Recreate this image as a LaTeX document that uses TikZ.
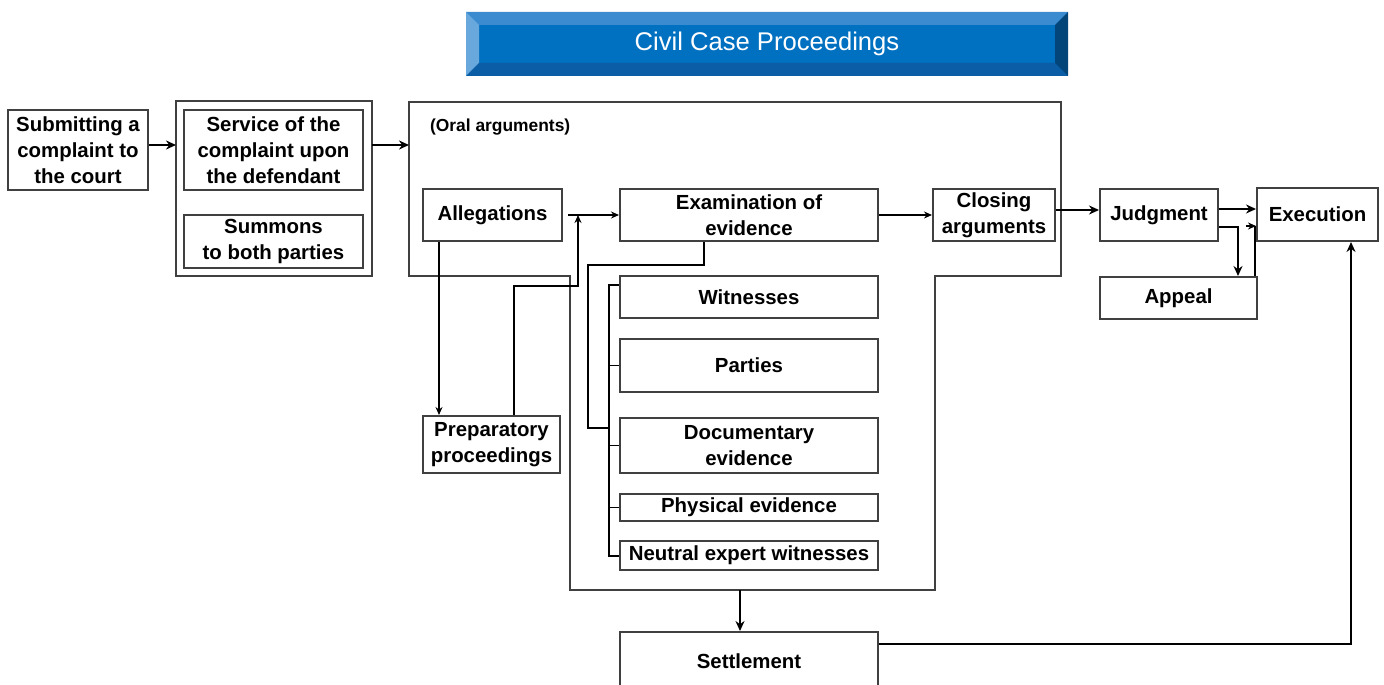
\documentclass[tikz,border=0pt]{standalone}
\usepackage{fontspec}
\setmainfont{Liberation Sans}
\usetikzlibrary{arrows.meta,calc}
\definecolor{bordgray}{rgb}{0.25,0.25,0.25}
\definecolor{ttlmid}{HTML}{0070C0}
\definecolor{ttltop}{HTML}{3A8BD0}
\definecolor{ttlleft}{HTML}{69A8DC}
\definecolor{ttlbot}{HTML}{0B5DA6}
\definecolor{ttlright}{HTML}{034579}
\begin{document}
\begin{tikzpicture}[x=0.5pt,y=-0.5pt,>={Stealth[length=4pt,width=3.5pt]},
  box/.style={draw=bordgray,line width=1pt,inner sep=0pt,align=center,
    font=\bfseries\fontsize{10.2}{13}\selectfont},
  frame/.style={draw=bordgray,line width=0.9pt},
  conn/.style={line width=0.7pt},
  heavy/.style={line width=1.4pt,>={Stealth[length=5pt,width=4.5pt]}}]
\clip (0,0) rectangle (1384,684);
% title bar
\fill[ttlmid] (466,12) rectangle (1068,76);
\fill[ttltop] (466,12) -- (1068,12) -- (1055,25) -- (479,25) -- cycle;
\fill[ttlleft] (466,12) -- (479,25) -- (479,63) -- (466,76) -- cycle;
\fill[ttlbot] (466,76) -- (479,63) -- (1055,63) -- (1068,76) -- cycle;
\fill[ttlright] (1068,12) -- (1055,25) -- (1055,63) -- (1068,76) -- cycle;
\node[text=white,font=\fontsize{12.8}{15}\selectfont] (ttl) at (767,44) {Civil Case Proceedings};
% frames
\draw[frame] (176,101) rectangle (372,276);
\draw[frame] (409,102) -- (1061,102) -- (1061,276) -- (935,276) -- (935,590)
  -- (570,590) -- (570,276) -- (409,276) -- cycle;
\node[anchor=west,font=\bfseries\fontsize{8.7}{10}\selectfont] (oral) at (423,127) {(Oral arguments)};
\coordinate (grpW) at (176,145);
\coordinate (oralW) at (409,145);
\coordinate (oralS) at (740,590);
\coordinate (jn) at (578,215);
\coordinate (kink) at (578,286);
% boxes
\node[box,minimum width=70pt,minimum height=40pt] (subm) at (78,150) {Submitting a\\complaint to\\the court};
\node[box,minimum width=89.5pt,minimum height=40pt] (serv) at (273.5,150) {Service of the\\complaint upon\\the defendant};
\node[box,minimum width=89.5pt,minimum height=26.5pt] (summ) at (273.5,241.5) {Summons\\to both parties};
\node[box,minimum width=69.5pt,minimum height=26pt] (alleg) at (492.5,215) {Allegations};
\node[box,minimum width=129pt,minimum height=26pt] (exam) at (749,215) {Examination of\\evidence};
\node[box,minimum width=61pt,minimum height=26pt] (clos) at (994,215) {Closing\\arguments};
\node[box,minimum width=68.5pt,minimum height=28.5pt] (prep) at (491.5,444.5) {Preparatory\\proceedings};
\node[box,minimum width=129pt,minimum height=21pt] (wit) at (749,297) {Witnesses};
\node[box,minimum width=129pt,minimum height=26.5pt] (part) at (749,365.5) {Parties};
\node[box,minimum width=129pt,minimum height=27.5pt] (doc) at (749,445.5) {Documentary\\evidence};
\node[box,minimum width=129pt,minimum height=13.5pt] (phys) at (749,507.5) {Physical evidence};
\node[box,minimum width=129pt,minimum height=14.5pt] (neut) at (749,555.5) {Neutral expert witnesses};
\node[box,minimum width=129pt,minimum height=29pt] (sett) at (749,661) {Settlement};
\node[box,minimum width=59pt,minimum height=26pt] (judg) at (1159,215) {Judgment};
\node[box,minimum width=60.5pt,minimum height=26.5pt] (exec) at (1317.5,214.5) {Execution};
\node[box,minimum width=78.5pt,minimum height=21pt] (appe) at (1178.5,298) {Appeal};
% connectors
\draw[heavy,->] (subm.east |- grpW) -- (grpW);
\draw[heavy,->] (oralW -| 372,0) -- (oralW);
\draw[conn,->] ([xshift=2.5pt]alleg.east) -- (exam.west);
\draw[conn,->] ([xshift=8.5pt]alleg.south west) -- ([xshift=8.5pt]alleg.south west |- prep.north);
\draw[conn,->] ([xshift=46pt]prep.north west) |- (kink) -- (jn);
\draw[conn,->] (exam.east) -- (clos.west);
\draw[conn] ([xshift=42.5pt]exam.south west) |- (588,265) |- (609,428);
\draw[conn] (wit.west |- 0,285) -- (609,285) -- (609,556) -- (neut.west |- 0,556);
\foreach \b in {part,doc,phys}
  \draw[conn] (\b.west) -- ++(-11,0);
\draw[heavy,->] ([yshift=2.5pt]clos.east) -- ([yshift=2.5pt]clos.east -| judg.west);
\draw[heavy,->] ([yshift=3pt]judg.east) -- ([yshift=3pt]judg.east -| exec.west);
\draw[heavy,->] ([yshift=-6pt]judg.east) -| ([xshift=-10pt]appe.north east);
\draw[heavy] ([xshift=-1.5pt]appe.north east) -- ([xshift=-1.5pt]appe.north east |- 0,226);
\draw[conn,->] (1246,226) -- (exec.west |- 0,226);
\draw[heavy,->] (oralS) -- (oralS |- sett.north);
\draw[heavy,->] ([yshift=-6.5pt]sett.north east) -| ([xshift=-14pt]exec.south east);
\end{tikzpicture}
\end{document}
